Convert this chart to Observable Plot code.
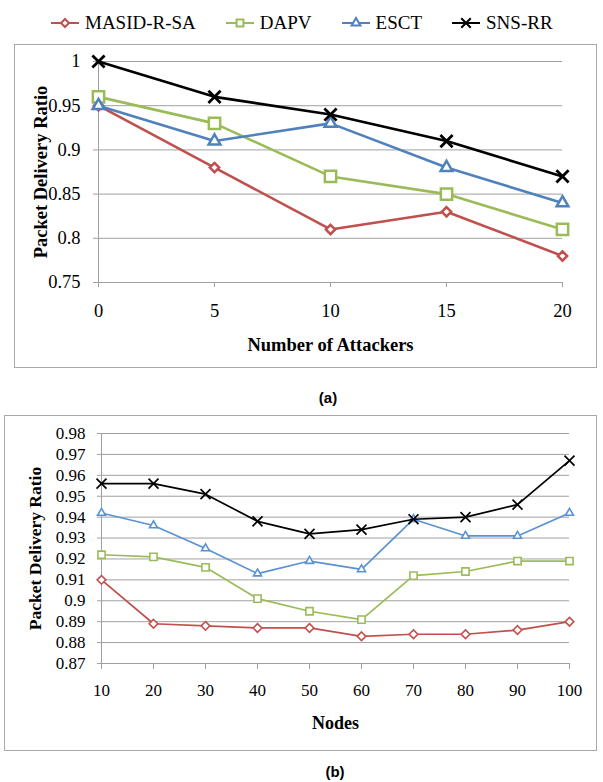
<!DOCTYPE html>
<html>
<head>
<meta charset="utf-8">
<script src="https://cdn.jsdelivr.net/npm/d3@7"></script>
<script src="https://cdn.jsdelivr.net/npm/@observablehq/plot@0.6"></script>
<style>
  body { margin: 0; background: #fff; }
  #page { position: relative; width: 603px; height: 782px; background: #fff; overflow: hidden;
          font-family: "Liberation Serif", Tinos, "Times New Roman", Times, "DejaVu Serif", "Noto Serif", serif; }
  .holder { position: absolute; }
  .frame { position: absolute; border: 1.5px solid #a9a9a9; box-sizing: border-box; pointer-events: none; }
  .cap { position: absolute; font-family: "Liberation Sans", Arial, sans-serif; font-weight: bold;
         font-size: 15px; transform: translate(-50%, -50%); color: #000; }
  #legend { position: absolute; left: 50px; top: 11px; height: 24px; display: flex; align-items: center; gap: 29px; }
  #legend .item { display: flex; align-items: center; }
  #legend span { font-size: 19px; margin-left: 5px; color: #000; line-height: 24px; }
</style>
</head>
<body>
<div id="page">
  <div id="legend"></div>
  <div class="holder" id="chartA" style="left:14px; top:44px;"></div>
  <div class="frame" style="left:14px; top:44px; width:583px; height:324px;"></div>
  <div class="cap" style="left:328px; top:397px;">(a)</div>
  <div class="holder" id="chartB" style="left:4px; top:415px;"></div>
  <div class="frame" style="left:4px; top:415px; width:593px; height:336px;"></div>
  <div class="cap" style="left:335px; top:771px;">(b)</div>
</div>
<script>
// ---- series ----
const seriesNames = ["MASID-R-SA", "DAPV", "ESCT", "SNS-RR"];
const seriesSymbols = ["diamond2", "square2", "triangle2", "times"];
const colorsA = ["#c0504d", "#9bbb59", "#4f81bd", "#000000"];
const colorsB = ["#c0504d", "#9bbb59", "#5a92d4", "#000000"];

// ---- chart (a): Number of Attackers ----
const attackers = [0, 5, 10, 15, 20];
const attMASID = [0.95, 0.88, 0.81, 0.83, 0.78];
const attDAPV  = [0.96, 0.93, 0.87, 0.85, 0.81];
const attESCT  = [0.95, 0.91, 0.93, 0.88, 0.84];
const attSNSRR = [1.00, 0.96, 0.94, 0.91, 0.87];
const attTicksY = [0.75, 0.8, 0.85, 0.9, 0.95, 1];

// ---- chart (b): Nodes ----
const nodes = [10, 20, 30, 40, 50, 60, 70, 80, 90, 100];
const nodMASID = [0.910, 0.889, 0.888, 0.887, 0.887, 0.883, 0.884, 0.884, 0.886, 0.890];
const nodDAPV  = [0.922, 0.921, 0.916, 0.901, 0.895, 0.891, 0.912, 0.914, 0.919, 0.919];
const nodESCT  = [0.942, 0.936, 0.925, 0.913, 0.919, 0.915, 0.939, 0.931, 0.931, 0.942];
const nodSNSRR = [0.956, 0.956, 0.951, 0.938, 0.932, 0.934, 0.939, 0.940, 0.946, 0.967];
const nodTicksY = [0.87, 0.88, 0.89, 0.9, 0.91, 0.92, 0.93, 0.94, 0.95, 0.96, 0.97, 0.98];

const GRID = "#a0a0a0";
const SERIF = "'Liberation Serif', Tinos, 'Times New Roman', Times, 'DejaVu Serif', 'Noto Serif', serif";
const fmt = d => String(+d.toFixed(2));

function chart(cfg) {
  const rows = [];
  cfg.values.forEach((vals, i) => vals.forEach((v, j) => rows.push({x: cfg.xs[j], y: v, s: seriesNames[i]})));
  const marks = [
    Plot.gridY(cfg.yTicks, {stroke: GRID, strokeOpacity: 1, strokeWidth: 1}),
    Plot.ruleX([cfg.xs[0]], {stroke: GRID, strokeWidth: 1}),
    Plot.axisY({ticks: cfg.yTicks, tickSize: cfg.tickY, tickPadding: cfg.padY, stroke: GRID, fill: "#000",
                fontSize: cfg.fs, tickFormat: fmt, label: null}),
    Plot.axisX({ticks: cfg.xs, tickSize: cfg.tickX, tickPadding: cfg.padX, stroke: GRID, fill: "#000",
                fontSize: cfg.fs, tickFormat: d => String(d), label: null}),
    Plot.text([cfg.xLabel], {text: d => d, frameAnchor: "bottom", dy: cfg.xTitleDy, lineAnchor: "middle",
               textAnchor: "middle", fontWeight: "bold", fontSize: cfg.xTitleFs, fill: "#000"}),
    Plot.text([cfg.yLabel], {text: d => d, frameAnchor: "left", dx: cfg.yTitleDx, rotate: -90, lineAnchor: "middle",
               textAnchor: "middle", fontWeight: "bold", fontSize: cfg.yTitleFs, fill: "#000"})
  ];
  seriesNames.forEach((name, i) => {
    const data = rows.filter(r => r.s === name);
    marks.push(Plot.line(data, {x: "x", y: "y", stroke: cfg.colors[i], strokeWidth: cfg.lw}));
    marks.push(Plot.dot(data, {x: "x", y: "y", symbol: seriesSymbols[i], r: cfg.rs[i], fill: "white",
                               stroke: cfg.colors[i], strokeWidth: cfg.msw[i]}));
  });
  return Plot.plot({
    width: cfg.width, height: cfg.height,
    marginLeft: cfg.ml, marginRight: cfg.mr, marginTop: cfg.mt, marginBottom: cfg.mb,
    x: {domain: cfg.xDomain},
    y: {domain: cfg.yDomain},
    style: {fontFamily: SERIF, background: "transparent", color: "#000", overflow: "visible"},
    marks
  });
}

document.getElementById("chartA").append(chart({
  xs: attackers, values: [attMASID, attDAPV, attESCT, attSNSRR], yTicks: attTicksY,
  xDomain: [0, 20], yDomain: [0.75, 1], colors: colorsA,
  width: 583, height: 324, ml: 84, mr: 35, mt: 17, mb: 86,
  fs: 18.5, tickY: 5, padY: 13, tickX: 5, padX: 16,
  lw: 2.6, rs: [4.2, 7.2, 5.6, 5.6], msw: [2.5, 2.5, 2.5, 2.8],
  xLabel: "Number of Attackers", xTitleDy: 63, xTitleFs: 18.5,
  yLabel: "Packet Delivery Ratio", yTitleDx: -57, yTitleFs: 18.5
}));

document.getElementById("chartB").append(chart({
  xs: nodes, values: [nodMASID, nodDAPV, nodESCT, nodSNSRR], yTicks: nodTicksY,
  xDomain: [10, 100], yDomain: [0.87, 0.98], colors: colorsB,
  width: 593, height: 336, ml: 97, mr: 28, mt: 18, mb: 88,
  fs: 17, tickY: 4, padY: 12, tickX: 6, padX: 14,
  lw: 1.7, rs: [3.9, 4.6, 3.8, 4.6], msw: [1.6, 1.6, 1.6, 1.7],
  xLabel: "Nodes", xTitleDy: 60, xTitleFs: 18,
  yLabel: "Packet Delivery Ratio", yTitleDx: -66, yTitleFs: 17.5
}));

// ---- legend ----
const legendSymbols = [d3.symbolDiamond2, d3.symbolSquare2, d3.symbolTriangle2, d3.symbolTimes];
const legendR = [3.6, 4.4, 4.2, 4.4];
const legend = d3.select("#legend");
seriesNames.forEach((name, i) => {
  const item = legend.append("div").attr("class", "item");
  const svg = item.append("svg").attr("width", 30).attr("height", 20);
  svg.append("line").attr("x1", 1).attr("x2", 29).attr("y1", 10).attr("y2", 10)
     .attr("stroke", colorsA[i]).attr("stroke-width", 2);
  svg.append("path").attr("transform", "translate(15,10)")
     .attr("d", d3.symbol(legendSymbols[i], Math.PI * legendR[i] * legendR[i])())
     .attr("fill", "white").attr("stroke", colorsA[i]).attr("stroke-width", 2);
  item.append("span").text(name);
});
</script>
</body>
</html>
